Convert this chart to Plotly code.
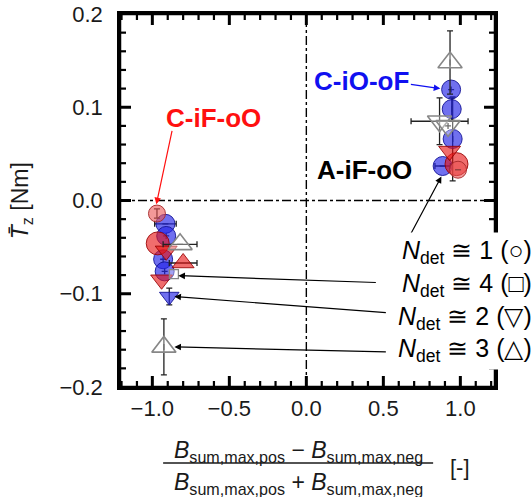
import plotly.graph_objects as go

# ---- data -------------------------------------------------------------
# blue circles (C-iO-oF)
blue_circ_x = [-0.915, -0.91, -0.93, -0.92, 0.94, 0.944, 0.95, 0.885]
blue_circ_y = [-0.025, -0.038, -0.063, -0.076, 0.119, 0.098, 0.066, 0.037]
blue_circ_ex = [0.07, 0, 0, 0, 0, 0, 0, 0.05]
blue_circ_ey = [0, 0, 0, 0, 0, 0.012, 0.045, 0]

# large red circles
red_circ_x = [-0.965, 0.975]
red_circ_y = [-0.046, 0.039]

# light red circles (C-iF-oO)
salmon_circ_x = [-0.97, 0.985]
salmon_circ_y = [-0.014, 0.033]
salmon_circ_ey = [0.005, 0]

# red down / up triangles
red_down_x = [-0.91, -0.94, 0.93]
red_down_y = [-0.054, -0.085, 0.053]
red_up_x = [-0.80]
red_up_y = [-0.067]
red_up_ex = [0.09]

# blue down triangle
blue_down_x = [-0.89]
blue_down_y = [-0.103]
blue_down_ey = [0.009]

# grey open triangles and square
grey_up_x = [-0.82, -0.925, 0.933]
grey_up_y = [-0.047, -0.157, 0.148]
grey_up_ex = [0.11, 0, 0]
grey_up_ey = [0, 0.03, 0.034]
grey_down_x = [0.865, 0.92]
grey_down_y = [0.085, 0.08]
grey_down_ex = [0.185, 0]
grey_down_ey = [0.025, 0]
grey_sq_x = [-0.86]
grey_sq_y = [-0.079]

# axes
x_range = [-1.21, 1.225]
y_range = [-0.2, 0.2]
x_major_ticks = [-1.0, -0.5, 0.0, 0.5, 1.0]
y_major_ticks = [-0.1, 0.0, 0.1]
x_minor_ticks = [round(-1.2 + 0.1 * i, 2) for i in range(25)]
y_minor_ticks = [round(-0.18 + 0.02 * i, 2) for i in range(19)]
x_minor_ticks = [v for v in x_minor_ticks if v not in x_major_ticks]
y_minor_ticks = [v for v in y_minor_ticks if v not in y_major_ticks]

FONT = "Liberation Sans, Arial, sans-serif"
ERR = "#222222"

fig = go.Figure()


def add(x, y, symbol, size, fill, line, ex=None, ey=None, lw=1.0):
    fig.add_trace(go.Scatter(
        x=x, y=y, mode="markers",
        marker=dict(symbol=symbol, size=size, color=fill,
                    line=dict(color=line, width=lw)),
        error_x=dict(type="data", array=ex, visible=ex is not None,
                     color=ERR, thickness=1.3, width=3),
        error_y=dict(type="data", array=ey, visible=ey is not None,
                     color=ERR, thickness=1.3, width=3),
        showlegend=False, hoverinfo="skip",
    ))


BLUE = "rgba(35,35,230,0.65)"
BLUE_L = "rgba(20,20,150,0.9)"
RED = "rgba(230,20,20,0.62)"
RED_L = "rgba(150,0,0,0.85)"
SALMON = "rgba(235,85,85,0.6)"
SALMON_L = "rgba(165,40,40,0.9)"
GREY_F = "rgba(255,255,255,0.35)"
GREY_L = "rgb(135,135,135)"

add(blue_circ_x, blue_circ_y, "circle", 19, BLUE, BLUE_L, blue_circ_ex, blue_circ_ey)
add(red_circ_x, red_circ_y, "circle", 23, RED, RED_L)
add(salmon_circ_x, salmon_circ_y, "circle", 17, SALMON, SALMON_L, None, salmon_circ_ey)
add(red_down_x, red_down_y, "triangle-down", 19, RED, RED_L)
add(red_up_x, red_up_y, "triangle-up", 19, RED, RED_L, red_up_ex, None)
add(blue_down_x, blue_down_y, "triangle-down", 17, BLUE, BLUE_L, None, blue_down_ey)
add(grey_sq_x, grey_sq_y, "square", 9, GREY_F, GREY_L, lw=1.3)
add(grey_up_x, grey_up_y, "triangle-up", 21, GREY_F, GREY_L, grey_up_ex, grey_up_ey, lw=1.6)
add(grey_down_x, grey_down_y, "triangle-down", 21, GREY_F, GREY_L, grey_down_ex, grey_down_ey, lw=1.6)

# dash-dot reference lines through the origin
fig.add_shape(type="line", xref="x", yref="paper", x0=0, x1=0, y0=0, y1=1,
              line=dict(color="black", width=1.4, dash="dashdot"))
fig.add_shape(type="line", xref="paper", yref="y", x0=0, x1=1, y0=0, y1=0,
              line=dict(color="black", width=1.4, dash="dashdot"))
# plot frame
fig.add_shape(type="rect", xref="paper", yref="paper", x0=0, x1=1, y0=0, y1=1,
              line=dict(color="black", width=2.5), fillcolor="rgba(0,0,0,0)")

# inward tick marks on all four sides of the frame
PLOT_W, PLOT_H = 375, 373
MAJ, MIN = 11, 6


def tick_x(vals, length, width):
    h = length / PLOT_H
    for v in vals:
        for y0, y1 in ((0, h), (1, 1 - h)):
            fig.add_shape(type="line", xref="x", yref="paper", x0=v, x1=v,
                          y0=y0, y1=y1, line=dict(color="black", width=width))


def tick_y(vals, length, width):
    w = length / PLOT_W
    for v in vals:
        for x0, x1 in ((0, w), (1, 1 - w)):
            fig.add_shape(type="line", xref="paper", yref="y", x0=x0, x1=x1,
                          y0=v, y1=v, line=dict(color="black", width=width))


tick_x(x_major_ticks, MAJ, 3)
tick_x(x_minor_ticks, MIN, 2.2)
tick_y(y_major_ticks, MAJ, 3)
tick_y(y_minor_ticks, MIN, 2.2)

# group labels
fig.add_annotation(x=-0.604, y=0.089, text="<b>C-iF-oO</b>", showarrow=False,
                   font=dict(family=FONT, size=26, color="#ff1010"))
fig.add_annotation(x=0.357, y=0.128, text="<b>C-iO-oF</b>", showarrow=False,
                   font=dict(family=FONT, size=26, color="#1010f0"))
fig.add_annotation(x=0.377, y=0.033, text="<b>A-iF-oO</b>", showarrow=False,
                   font=dict(family=FONT, size=26, color="black"))

# arrows (head at x,y ; tail at ax,ay)
arrows = [
    (-0.974, -0.004, -0.870, 0.0763, "#ff1010"),
    (0.870, 0.120, 0.669, 0.1247, "#1010f0"),
    (0.877, 0.0258, 0.669, -0.0387, "black"),
    (-0.831, -0.0806, 0.461, -0.088, "black"),
    (-0.857, -0.103, 0.526, -0.1204, "black"),
    (-0.857, -0.157, 0.526, -0.1624, "black"),
]
for hx, hy, tx, ty, col in arrows:
    fig.add_annotation(x=hx, y=hy, ax=tx, ay=ty, xref="x", yref="y",
                       axref="x", ayref="y", text="", showarrow=True,
                       arrowhead=2, arrowsize=1.1, arrowwidth=1.2,
                       arrowcolor=col, standoff=0, startstandoff=0)

# detection-count labels
ndet_vals = ["1 (○)", "4 (□)", "2 (▽)", "3 (△)"]
ndet_y = [-0.0548, -0.0903, -0.1258, -0.160]
for v, yy in zip(ndet_vals, ndet_y):
    fig.add_annotation(x=1.108, y=yy, xref="paper", yref="y",
                       xanchor="right", yanchor="middle",
                       text="<i>N</i><sub>det</sub> ≅ " + v, showarrow=False,
                       bgcolor="white", borderpad=3,
                       font=dict(family=FONT, size=25, color="black"))

# y-axis title
fig.add_annotation(x=-0.262, y=0.5, xref="paper", yref="paper",
                   xanchor="center", yanchor="middle",
                   text="<i>T\u0304</i><sub>z</sub> [Nm]", textangle=-90,
                   showarrow=False, font=dict(family=FONT, size=23, color="#1a1a1a"))

# x-axis title: fraction
num = "<i>B</i><sub>sum,max,pos</sub> − <i>B</i><sub>sum,max,neg</sub>"
den = "<i>B</i><sub>sum,max,pos</sub> + <i>B</i><sub>sum,max,neg</sub>"
fig.add_annotation(x=0.475, y=-0.172, xref="paper", yref="paper", text=num,
                   xanchor="center", yanchor="middle",
                   showarrow=False, font=dict(family=FONT, size=23, color="#1a1a1a"))
fig.add_annotation(x=0.475, y=-0.259, xref="paper", yref="paper", text=den,
                   xanchor="center", yanchor="middle",
                   showarrow=False, font=dict(family=FONT, size=23, color="#1a1a1a"))
fig.add_shape(type="line", xref="paper", yref="paper", x0=0.115, x1=0.835,
              y0=-0.2038, y1=-0.2038, line=dict(color="#1a1a1a", width=1.5))
fig.add_annotation(x=0.907, y=-0.2145, xref="paper", yref="paper", text="[-]",
                   xanchor="center", yanchor="middle",
                   showarrow=False, font=dict(family=FONT, size=22, color="#1a1a1a"))

axis_common = dict(
    showline=True, linewidth=2.5, linecolor="black", mirror=True,
    ticks="", showgrid=False, zeroline=False, tickformat=".1f",
    automargin=False,
    tickfont=dict(family=FONT, size=22, color="#1a1a1a"),
)
fig.update_xaxes(range=x_range, tickvals=x_major_ticks, **axis_common)
fig.update_yaxes(range=y_range, dtick=0.1, tick0=0,
                 ticklabelstandoff=10, **axis_common)

fig.update_layout(
    width=532, height=497,
    margin=dict(l=120, r=37, t=14, b=110),
    paper_bgcolor="white", plot_bgcolor="rgba(0,0,0,0)",
    font=dict(family=FONT),
)

fig.write_html("out.html")
